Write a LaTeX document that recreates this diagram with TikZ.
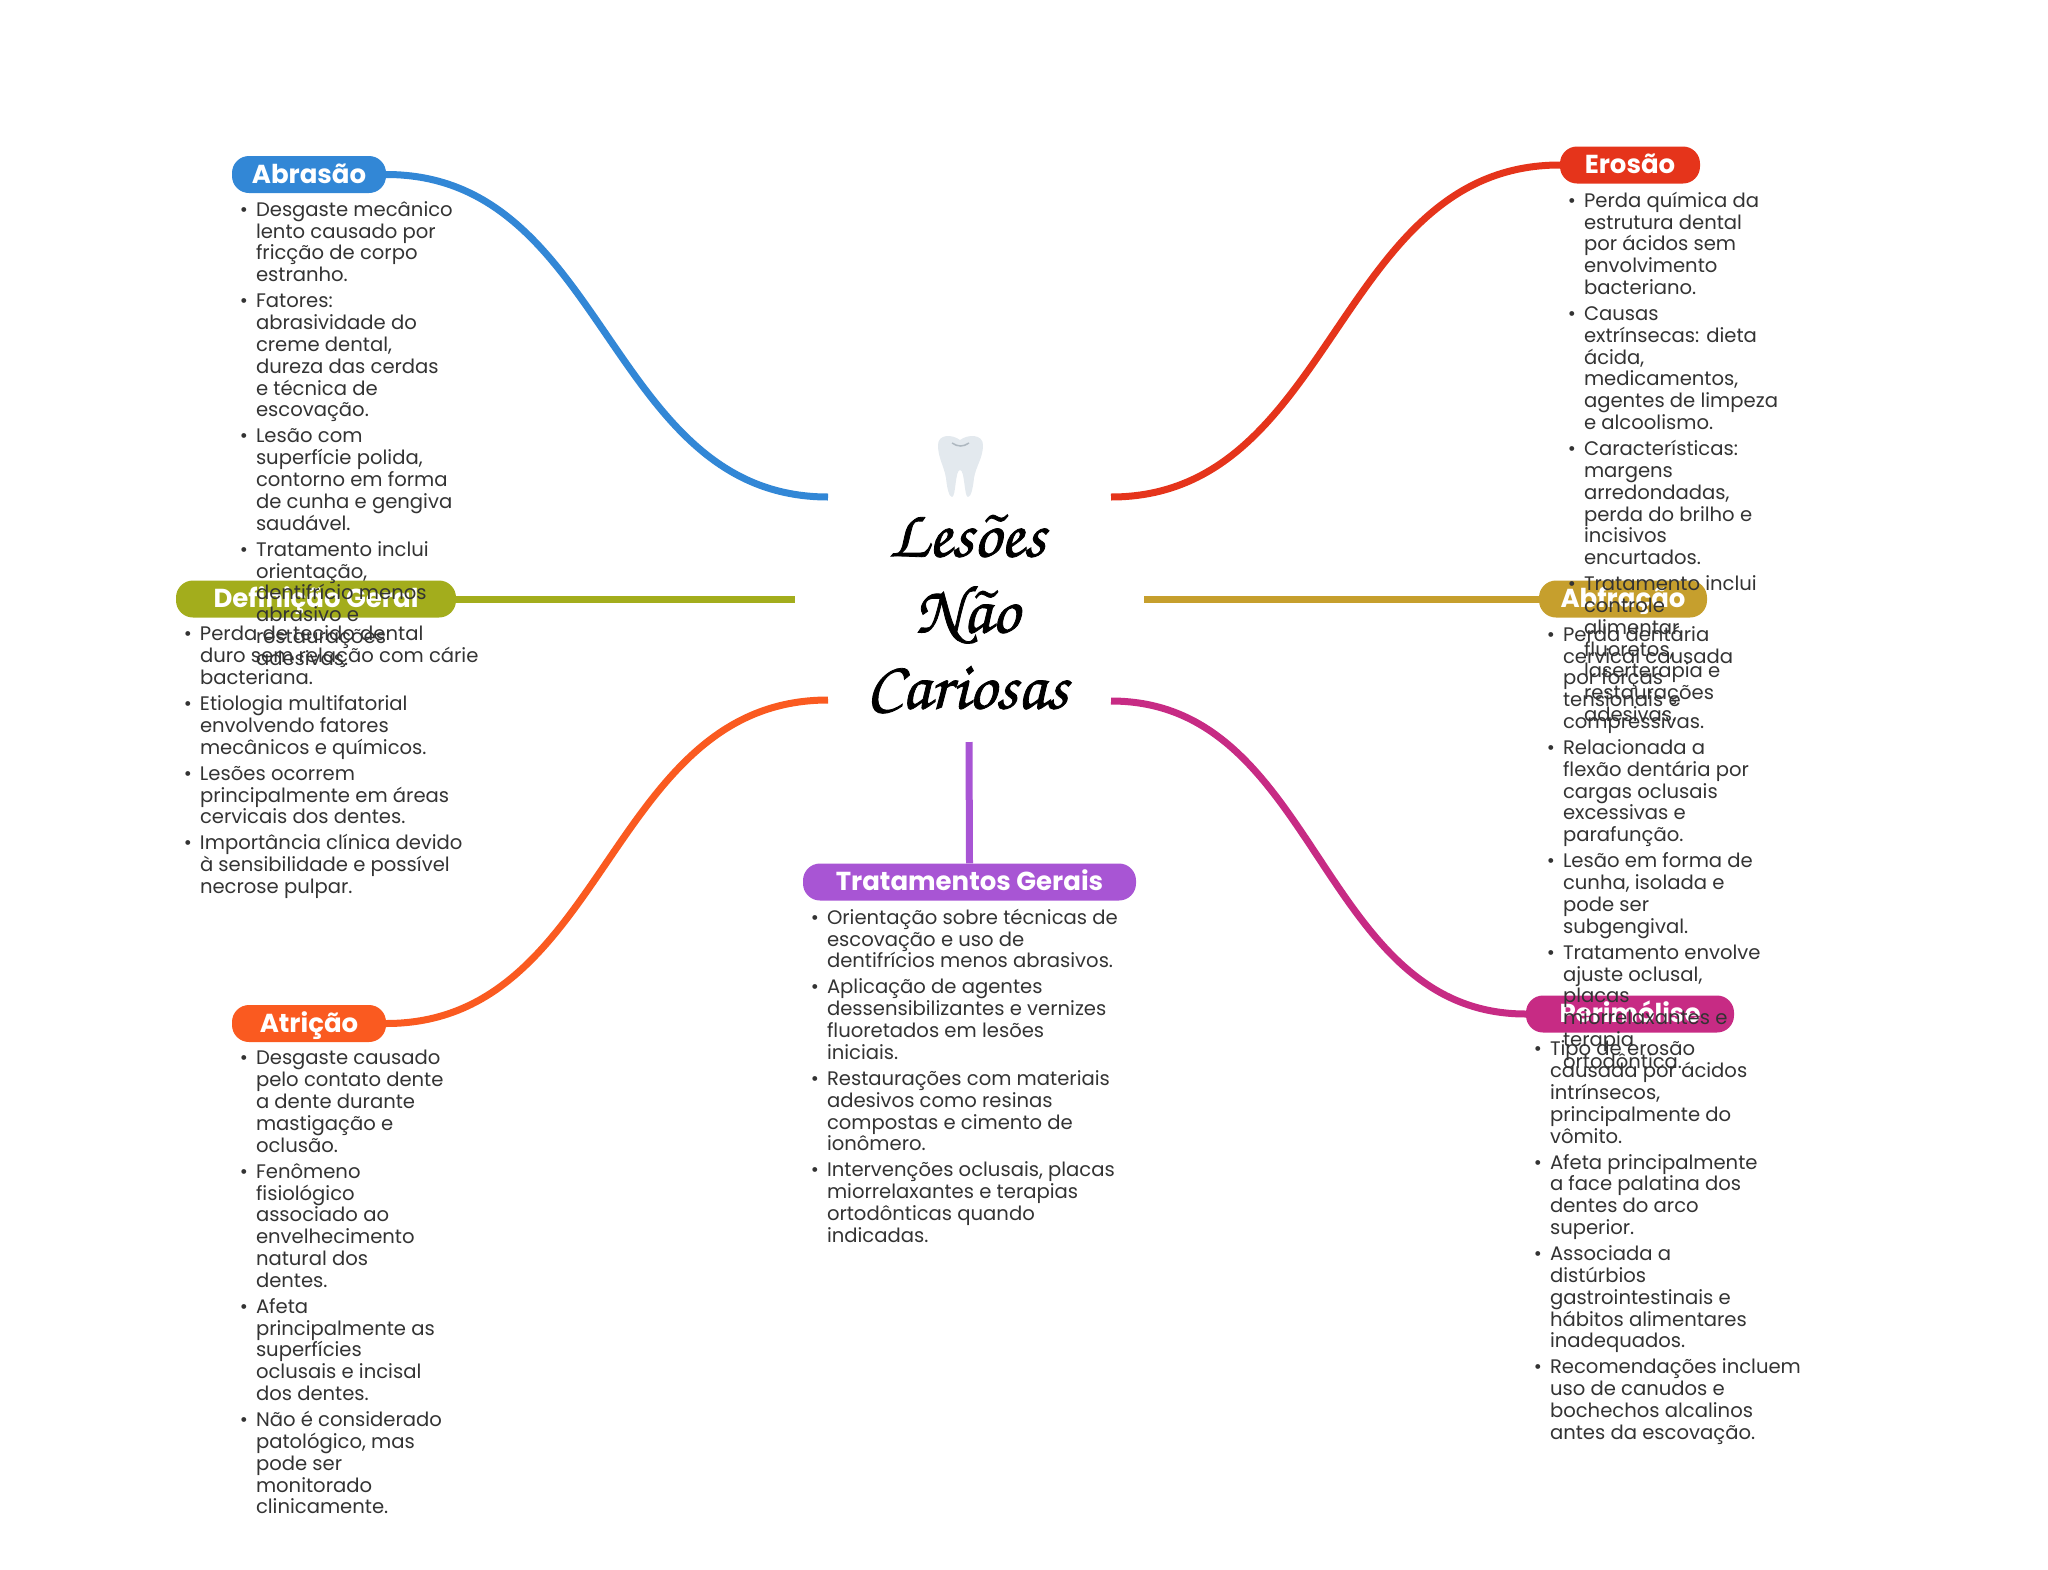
\documentclass[tikz,border=0pt]{standalone}
\usepackage{fontspec}
\setmainfont{Poppins}
\newfontfamily\chorusfont[FakeBold=1.2]{TeX Gyre Chorus}
\usetikzlibrary{positioning}

\definecolor{cabrasao}{HTML}{3287D6}
\definecolor{cerosao}{HTML}{E5341B}
\definecolor{cdefinicao}{HTML}{A3AD1C}
\definecolor{cabfracao}{HTML}{C69F2D}
\definecolor{cperimolise}{HTML}{C72B84}
\definecolor{catricao}{HTML}{FA5A20}
\definecolor{ctratamento}{HTML}{A855D4}
\definecolor{ctexto}{HTML}{333333}
\definecolor{cdente}{HTML}{E3E9EE}
\definecolor{cgengiva}{HTML}{AEB8C0}

\newcommand{\blt}{\llap{\textbullet\hspace{8pt}}}
\newcommand{\nxt}{\\[4.3pt]\blt}

\tikzset{
  pill/.style={rectangle, rounded corners=17pt, fill=#1, text=white, minimum height=37pt,
    inner sep=0pt, text height=19pt, text depth=2pt, font=\fontsize{26}{30}\selectfont\bfseries},
  conn/.style={draw=#1, line width=7pt},
  lista/.style={align=left, inner sep=0pt, text=ctexto, font=\fontsize{19.6}{21.8}\selectfont},
  titulo/.style={align=center, inner sep=0pt, text=black, font=\fontsize{68}{76}\selectfont\chorusfont}
}

\begin{document}
\begin{tikzpicture}[x=1pt,y=-1pt]
\useasboundingbox (0,0) rectangle (2048,1569);

% centre
\node[titulo] (title) at (967,614) {Lesões\\Não\\Cariosas};
\fill[cdente] (938,445) .. controls (938,434) and (952,434) .. (960,440)
  .. controls (968,434) and (983,434) .. (983,445) .. controls (983,458) and (976,466) .. (974,478)
  .. controls (973,488) and (971,497) .. (968,497) .. controls (964,497) and (965,470) .. (960,470)
  .. controls (955,470) and (956,497) .. (952,497) .. controls (949,497) and (947,488) .. (946,478)
  .. controls (944,466) and (938,458) .. (938,445) -- cycle;
\draw[cgengiva, line width=1.5pt] (952,443) .. controls (958,447) and (963,447) .. (969,443);

% free ends near the centre
\coordinate (endabrasao) at (828,497);
\coordinate (enderosao) at (1111,497);
\coordinate (enddefinicao) at (795,599);
\coordinate (endabfracao) at (1144,599);
\coordinate (endatricao) at (828,700);
\coordinate (endperimolise) at (1111,701);
\coordinate (endtratamento) at (969,742);

% branches
\node[pill=cabrasao, minimum width=154pt] (abrasao) at (309,174.5) {Abrasão};
\node[pill=cdefinicao, minimum width=280pt] (definicao) at (316,599) {Definição Geral};
\node[pill=cerosao, minimum width=140pt] (erosao) at (1630,165) {Erosão};
\node[pill=cabfracao, minimum width=168pt] (abfracao) at (1623,599) {Abfração};
\node[pill=cperimolise, minimum width=208pt] (perimolise) at (1630,1014) {Perimólise};
\node[pill=catricao, minimum width=154pt] (atricao) at (309,1023.5) {Atrição};
\node[pill=ctratamento, minimum width=333pt] (tratamento) at (969.5,882) {Tratamentos Gerais};

% edges
\draw[conn=cabrasao] (abrasao.east) .. controls +(221,0) and +(-221,0) .. (endabrasao);
\draw[conn=cerosao] (erosao.west) .. controls +(-224,0) and +(224,0) .. (enderosao);
\draw[conn=cdefinicao] (definicao.east) -- (enddefinicao);
\draw[conn=cabfracao] (abfracao.west) -- (endabfracao);
\draw[conn=catricao] (atricao.east) .. controls +(221,0) and +(-221,0) .. (endatricao);
\draw[conn=cperimolise] (perimolise.west) .. controls +(-208,0) and +(208,0) .. (endperimolise);
\draw[conn=ctratamento] (tratamento.north) -- (endtratamento);

% lists
\node[lista, below right=8pt and 24pt of abrasao.south west] (listaabrasao) {\blt Desgaste mecânico\\lento causado por\\fricção de corpo\\estranho.\nxt Fatores:\\abrasividade do\\creme dental,\\dureza das cerdas\\e técnica de\\escovação.\nxt Lesão com\\superfície polida,\\contorno em forma\\de cunha e gengiva\\saudável.\nxt Tratamento inclui\\orientação,\\dentifrício menos\\abrasivo e\\restaurações\\adesivas.};
\node[lista, below right=8pt and 24pt of definicao.south west] (listadefinicao) {\blt Perda de tecido dental\\duro sem relação com cárie\\bacteriana.\nxt Etiologia multifatorial\\envolvendo fatores\\mecânicos e químicos.\nxt Lesões ocorrem\\principalmente em áreas\\cervicais dos dentes.\nxt Importância clínica devido\\à sensibilidade e possível\\necrose pulpar.};
\node[lista, below right=8pt and 24pt of erosao.south west] (listaerosao) {\blt Perda química da\\estrutura dental\\por ácidos sem\\envolvimento\\bacteriano.\nxt Causas\\extrínsecas: dieta\\ácida,\\medicamentos,\\agentes de limpeza\\e alcoolismo.\nxt Características:\\margens\\arredondadas,\\perda do brilho e\\incisivos\\encurtados.\nxt Tratamento inclui\\controle\\alimentar,\\fluoretos,\\laserterapia e\\restaurações\\adesivas.};
\node[lista, below right=8pt and 24pt of abfracao.south west] (listaabfracao) {\blt Perda dentária\\cervical causada\\por forças\\tensionais e\\compressivas.\nxt Relacionada a\\flexão dentária por\\cargas oclusais\\excessivas e\\parafunção.\nxt Lesão em forma de\\cunha, isolada e\\pode ser\\subgengival.\nxt Tratamento envolve\\ajuste oclusal,\\placas\\miorrelaxantes e\\terapia\\ortodôntica.};
\node[lista, below right=8pt and 24pt of perimolise.south west] (listaperimolise) {\blt Tipo de erosão\\causada por ácidos\\intrínsecos,\\principalmente do\\vômito.\nxt Afeta principalmente\\a face palatina dos\\dentes do arco\\superior.\nxt Associada a\\distúrbios\\gastrointestinais e\\hábitos alimentares\\inadequados.\nxt Recomendações incluem\\uso de canudos e\\bochechos alcalinos\\antes da escovação.};
\node[lista, below right=8pt and 24pt of atricao.south west] (listaatricao) {\blt Desgaste causado\\pelo contato dente\\a dente durante\\mastigação e\\oclusão.\nxt Fenômeno\\fisiológico\\associado ao\\envelhecimento\\natural dos\\dentes.\nxt Afeta\\principalmente as\\superfícies\\oclusais e incisal\\dos dentes.\nxt Não é considerado\\patológico, mas\\pode ser\\monitorado\\clinicamente.};
\node[lista, below right=8pt and 24pt of tratamento.south west] (listatratamento) {\blt Orientação sobre técnicas de\\escovação e uso de\\dentifrícios menos abrasivos.\nxt Aplicação de agentes\\dessensibilizantes e vernizes\\fluoretados em lesões\\iniciais.\nxt Restaurações com materiais\\adesivos como resinas\\compostas e cimento de\\ionômero.\nxt Intervenções oclusais, placas\\miorrelaxantes e terapias\\ortodônticas quando\\indicadas.};

\end{tikzpicture}
\end{document}
